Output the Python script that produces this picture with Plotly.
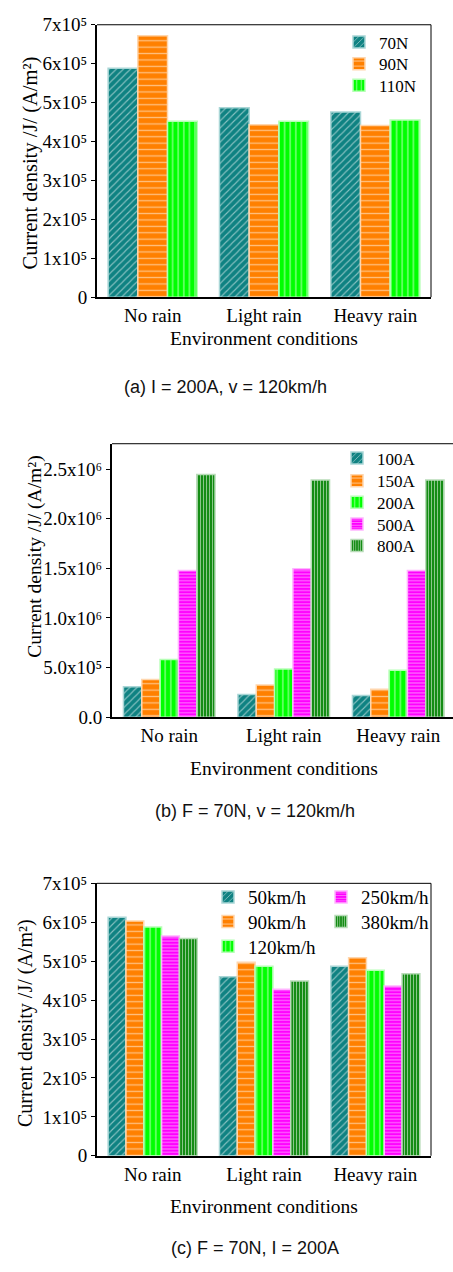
import plotly.graph_objects as go

W, H = 453, 1272

categories = ["No rain", "Light rain", "Heavy rain"]

# (a) I = 200A, v = 120km/h  -- contact force series
force_names = ["70N", "90N", "110N"]
force_70 = [5.88e5, 4.87e5, 4.76e5]
force_90 = [6.72e5, 4.43e5, 4.41e5]
force_110 = [4.52e5, 4.52e5, 4.55e5]

# (b) F = 70N, v = 120km/h  -- current series
current_names = ["100A", "150A", "200A", "500A", "800A"]
current_100 = [3.07e5, 2.28e5, 2.18e5]
current_150 = [3.79e5, 3.23e5, 2.80e5]
current_200 = [5.80e5, 4.85e5, 4.72e5]
current_500 = [1.478e6, 1.494e6, 1.478e6]
current_800 = [2.444e6, 2.390e6, 2.390e6]

# (c) F = 70N, I = 200A  -- speed series
speed_names = ["50km/h", "90km/h", "120km/h", "250km/h", "380km/h"]
speed_50 = [6.13e5, 4.60e5, 4.87e5]
speed_90 = [6.03e5, 4.97e5, 5.09e5]
speed_120 = [5.88e5, 4.87e5, 4.77e5]
speed_250 = [5.65e5, 4.28e5, 4.36e5]
speed_380 = [5.58e5, 4.49e5, 4.68e5]

# tick labels
tick_vals_ac = [0, 1e5, 2e5, 3e5, 4e5, 5e5, 6e5, 7e5]
tick_text_ac = ["0", "1x10⁵", "2x10⁵", "3x10⁵", "4x10⁵", "5x10⁵", "6x10⁵", "7x10⁵"]
tick_vals_b = [0, 5e5, 1e6, 1.5e6, 2e6, 2.5e6]
tick_text_b = ["0.0", "5.0x10⁵", "1.0x10⁶", "1.5x10⁶", "2.0x10⁶", "2.5x10⁶"]

captions = ["(a) I = 200A, v = 120km/h", "(b) F = 70N, v = 120km/h", "(c) F = 70N, I = 200A"]
x_title = "Environment conditions"
y_title = "Current density /J/ (A/m²)"

SERIF = "Liberation Serif, Times New Roman, serif"
SANS = "Liberation Sans, Arial, sans-serif"

styles = [
    dict(color="#0f8282", line="#a9d6d6", shape="/", size=5, sol=0.22),
    dict(color="#ff8000", line="#ffd6ad", shape="-", size=6.4, sol=0.2),
    dict(color="#00ff00", line="#b5ffb5", shape="|", size=5.6, sol=0.25),
    dict(color="#ff00ff", line="#ffb5ff", shape="-", size=3.3, sol=0.3),
    dict(color="#148c14", line="#b8dcb8", shape="|", size=3.0, sol=0.35),
]

# legend entry placement (pixels): text left x, row centre y
legend_pos_a = [(379, 33), (379, 55), (379, 77)]
legend_pos_b = [(377, 456), (377, 479), (377, 501), (377, 523), (377, 545)]
legend_pos_c = [(248, 902), (248, 927), (248, 952), (361, 902), (361, 927)]


def X(px):
    return px / W


def Y(py):
    return 1 - py / H


def bar(name, vals, st, xa, ya, legend):
    return go.Bar(
        x=categories, y=vals, name=name, xaxis=xa, yaxis=ya, legend=legend,
        marker=dict(color=st["color"],
                    line=dict(color=st["line"], width=1.5),
                    pattern=dict(shape=st["shape"], fgcolor="white", size=st["size"],
                                 solidity=st["sol"], fillmode="overlay")),
    )


layout = dict(
    width=W, height=H, autosize=False,
    margin=dict(l=0, r=0, t=0, b=0),
    paper_bgcolor="white", plot_bgcolor="white",
    barmode="group", bargap=0.2, bargroupgap=0,
    font=dict(family=SERIF, size=19, color="black"),
    showlegend=True,
)

fig = go.Figure()
leg_idx = 0


def add_group(names, series, xa, ya, positions, fsize):
    global leg_idx
    for i, (n, v) in enumerate(zip(names, series)):
        leg_idx += 1
        key = "legend" if leg_idx == 1 else "legend%d" % leg_idx
        fig.add_trace(bar(n, v, styles[i], xa, ya, key))
        tx, ty = positions[i]
        layout[key] = dict(x=X(tx - 40), y=Y(ty), xanchor="left", yanchor="middle",
                           bgcolor="rgba(0,0,0,0)", borderwidth=0,
                           font=dict(family=SERIF, size=fsize, color="black"))


add_group(force_names, [force_70, force_90, force_110], "x", "y", legend_pos_a, 17)
add_group(current_names, [current_100, current_150, current_200, current_500, current_800],
          "x2", "y2", legend_pos_b, 17)
add_group(speed_names, [speed_50, speed_90, speed_120, speed_250, speed_380],
          "x3", "y3", legend_pos_c, 19)

axfont = dict(family=SERIF, size=19, color="black")

# panel geometry (pixels)
panels = [
    dict(x0=97, x1=431, y0=15, y1=292, xr=[-0.5, 2.5], yr=[0, 7e5], tv=tick_vals_ac, tt=tick_text_ac),
    dict(x0=112, x1=453, y0=441, y1=719, xr=[-0.5, -0.5 + (453 - 112) / 114.5], yr=[0, 2.755e6],
         tv=tick_vals_b, tt=tick_text_b),
    dict(x0=97, x1=431, y0=888, y1=1165, xr=[-0.5, 2.5], yr=[0, 7e5], tv=tick_vals_ac, tt=tick_text_ac),
]

shapes = []
for k, p in enumerate(panels, start=1):
    sx = "" if k == 1 else str(k)
    layout["xaxis" + sx] = dict(
        domain=[X(p["x0"]), X(p["x1"])], anchor="y" + sx, range=p["xr"],
        showline=True, linewidth=2, linecolor="black", mirror=False,
        ticks="", showgrid=False, zeroline=False, tickfont=axfont, fixedrange=True,
    )
    layout["yaxis" + sx] = dict(
        domain=[Y(p["y1"]), Y(p["y0"])], anchor="x" + sx, range=p["yr"],
        showline=True, linewidth=2, linecolor="black", mirror=False,
        ticks="outside", ticklen=4, tickwidth=1, tickcolor="black",
        tickvals=p["tv"], ticktext=p["tt"], showgrid=False, zeroline=False,
        tickfont=axfont, fixedrange=True,
    )
    xref = "x" + sx + " domain"
    yref = "y" + sx + " domain"
    shapes.append(dict(type="line", xref=xref, yref=yref, x0=0, x1=1, y0=1, y1=1,
                       line=dict(color="black", width=1)))
    if k != 2:
        shapes.append(dict(type="line", xref=xref, yref=yref, x0=1, x1=1, y0=0, y1=1,
                           line=dict(color="black", width=1)))

layout["shapes"] = shapes

ann = []
# y titles
for (cx, cy, fs) in [(30, 156, 20.5), (35, 556, 19.5), (26, 1030, 20)]:
    ann.append(dict(text=y_title, x=X(cx), y=Y(cy), xref="paper", yref="paper",
                    xanchor="center", yanchor="middle", textangle=-90, showarrow=False,
                    font=dict(family=SERIF, size=fs, color="black")))
# x titles
for (cx, cy) in [(264, 334), (284, 771), (264, 1217)]:
    ann.append(dict(text=x_title, x=X(cx), y=Y(cy), xref="paper", yref="paper",
                    xanchor="center", yanchor="middle", showarrow=False,
                    font=dict(family=SERIF, size=19.5, color="black")))
# captions
for txt, (cx, cy) in zip(captions, [(225, 383), (255, 814), (255, 1259)]):
    ann.append(dict(text=txt, x=X(cx), y=Y(cy), xref="paper", yref="paper",
                    xanchor="center", yanchor="middle", showarrow=False,
                    font=dict(family=SANS, size=18, color="#111111")))
layout["annotations"] = ann

fig.update_layout(**layout)

fig.write_html("out.html", config={"displayModeBar": False},
               post_script="document.body.style.margin='0';document.body.style.overflow='hidden';")
